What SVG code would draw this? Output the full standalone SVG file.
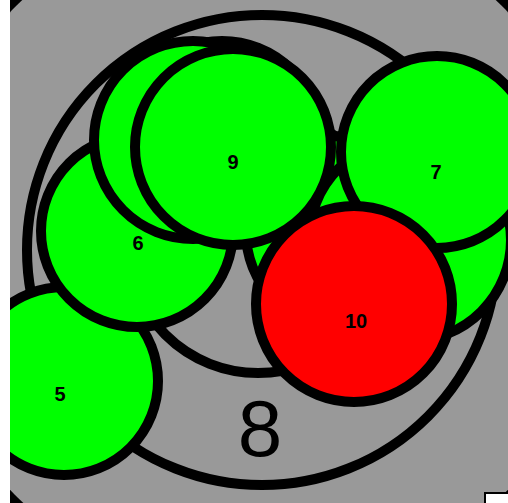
<svg xmlns="http://www.w3.org/2000/svg" width="508" height="503" viewBox="0 0 508 503">
  <defs>
    <clipPath id="area"><rect x="10" y="0" width="498" height="503"/></clipPath>
    <style>
      .n{stroke:#000;stroke-width:10}
      .g{fill:#00ff00}
      .r{fill:#ff0000}
      .gr{fill:#999999}
      .lb{font-family:"Liberation Sans",Arial,sans-serif;font-weight:bold;font-size:20px;text-anchor:middle;fill:#000}
      .big{font-family:"Liberation Sans",Arial,sans-serif;font-size:80px;text-anchor:middle;fill:#000}
    </style>
  </defs>
  <rect x="0" y="0" width="508" height="503" fill="#ffffff"/>
  <g clip-path="url(#area)">
    <rect x="10" y="0" width="498" height="503" fill="#000"/>
    <circle cx="259" cy="251" r="345" class="gr"/>
    <g id="node-8">
      <circle cx="262" cy="250" r="235" class="n gr"/>
      <text x="260" y="456" class="big">8</text>
    </g>
    <g id="node-inner">
      <circle cx="258" cy="242" r="131" class="n gr"/>
    </g>
    <g id="node-hidden-left">
      <circle cx="342" cy="232" r="96" class="n g"/>
    </g>
    <g id="node-hidden-right">
      <circle cx="410" cy="240" r="101" class="n g"/>
    </g>
    <g id="node-5">
      <circle cx="64" cy="381" r="94" class="n g"/>
      <text x="60" y="401" class="lb">5</text>
    </g>
    <g id="node-6">
      <circle cx="137" cy="231" r="96" class="n g"/>
      <text x="138" y="250" class="lb">6</text>
    </g>
    <g id="node-hidden-top">
      <circle cx="222" cy="140" r="99" class="n g"/>
    </g>
    <g id="node-behind-9">
      <circle cx="193" cy="140" r="99" class="n g"/>
    </g>
    <g id="node-9">
      <circle cx="233" cy="147" r="98" class="n g"/>
      <text x="233" y="169" class="lb">9</text>
    </g>
    <g id="node-7">
      <circle cx="437" cy="152" r="96" class="n g"/>
      <text x="436" y="179" class="lb">7</text>
    </g>
    <g id="node-10">
      <circle cx="354" cy="304" r="98" class="n r"/>
      <text x="356" y="328" class="lb">10</text>
    </g>
    <g id="connectors"></g>
    <rect x="485" y="493" width="40" height="20" fill="#ffffff" stroke="#000" stroke-width="2"/>
  </g>
</svg>
